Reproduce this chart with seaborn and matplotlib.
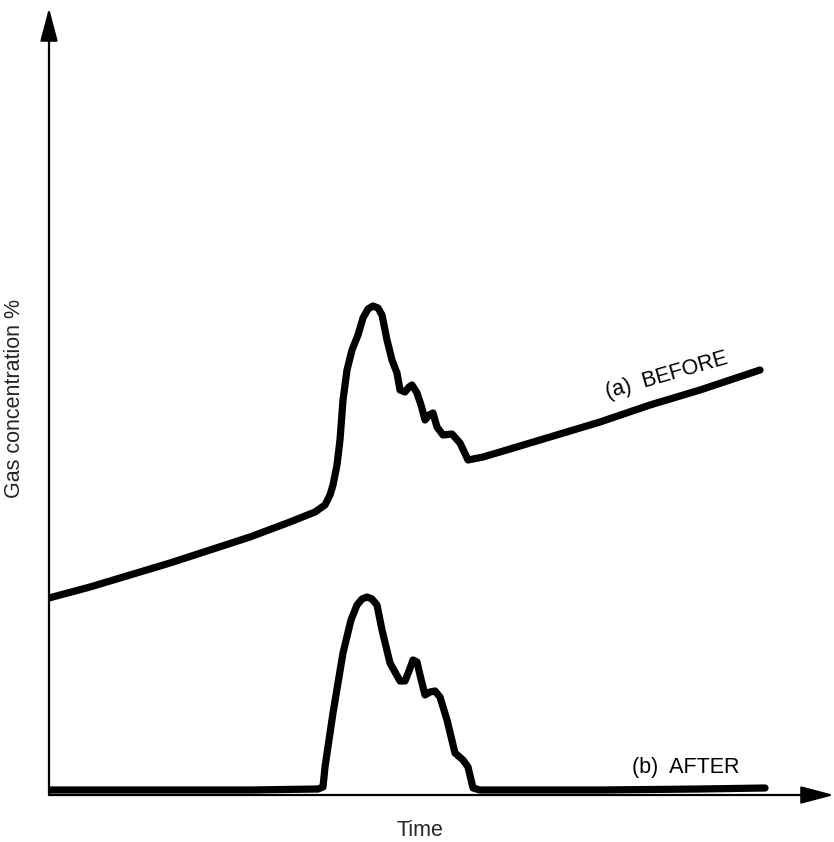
import matplotlib
matplotlib.use("Agg")
import matplotlib.pyplot as plt
import seaborn as sns
import pandas as pd

# Data (time units and concentration units; arbitrary scale)
before_t = [0, 41, 81, 121, 161, 201, 241, 266, 276, 281, 284, 288, 291, 294, 298, 303, 309, 314, 319,
            324, 329, 333, 338, 343, 348, 351, 356, 360, 363, 368, 372, 376, 380, 384, 388, 394, 403,
            411, 419, 434, 451, 501, 551, 601, 651, 711]
before_c = [197, 208, 220, 232, 245, 258, 273, 283, 290, 300, 310, 330, 355, 395, 425, 445, 460, 477, 486,
            489, 487, 480, 455, 435, 422, 405, 403, 408, 410, 402, 390, 375, 380, 382, 368, 360, 361,
            352, 335, 338, 343, 358, 373, 390, 405, 425]
after_t = [0, 101, 201, 269, 274, 276, 284, 294, 302, 308, 313, 318, 323, 328, 333, 341, 351, 356, 360,
           364, 368, 371, 376, 381, 386, 391, 398, 406, 414, 419, 424, 431, 551, 651, 716]
after_c = [5, 5, 5, 6, 8, 28, 82, 142, 175, 190, 196, 198, 196, 190, 165, 132, 114, 114, 124,
           135, 133, 120, 100, 103, 104, 98, 75, 42, 35, 28, 7, 5, 5, 6, 7]

df_a = pd.DataFrame({"Time": before_t, "Gas": before_c})
df_b = pd.DataFrame({"Time": after_t, "Gas": after_c})

sns.set_theme(style="white")
plt.rcParams["font.family"] = ["Liberation Sans", "DejaVu Sans"]

W, H = 834, 842
fig = plt.figure(figsize=(W / 100, H / 100), dpi=100)
ax = fig.add_axes([49 / W, 47 / H, 785 / W, 787 / H])
ax.set_xlim(0, 785)
ax.set_ylim(0, 787)

for df in (df_a, df_b):
    sns.lineplot(data=df, x="Time", y="Gas", sort=False, ax=ax, color="black", lw=5.2,
                 solid_capstyle="round", solid_joinstyle="round")

for s in ax.spines.values():
    s.set_visible(False)
ax.set_xticks([])
ax.set_yticks([])
ax.set_xlabel("")
ax.set_ylabel("")

# axis arrows
arrow_kw = dict(arrowstyle="-|>,head_length=1.7,head_width=0.45", color="black", lw=1.6,
                shrinkA=0, shrinkB=0)
ax.annotate("", xy=(0, 1.0), xytext=(0, 0), xycoords="axes fraction",
            arrowprops=arrow_kw, annotation_clip=False)
ax.annotate("", xy=(1.0, 0), xytext=(0, 0), xycoords="axes fraction",
            arrowprops=arrow_kw, annotation_clip=False)

ax.text(618, 419, "(a)  BEFORE", rotation=16, rotation_mode="anchor", ha="center", va="center",
        fontsize=15.5, color="black")
ax.text(637, 28, "(b)  AFTER", ha="center", va="center", fontsize=15.5, color="black")

fig.text(420 / W, 1 - 830 / H, "Time", ha="center", va="center", fontsize=15.5)
fig.text(15 / W, 1 - 399 / H, "Gas concentration %", ha="center", va="center", rotation=90,
         fontsize=15.5)

fig.savefig("out.png", dpi=100)
